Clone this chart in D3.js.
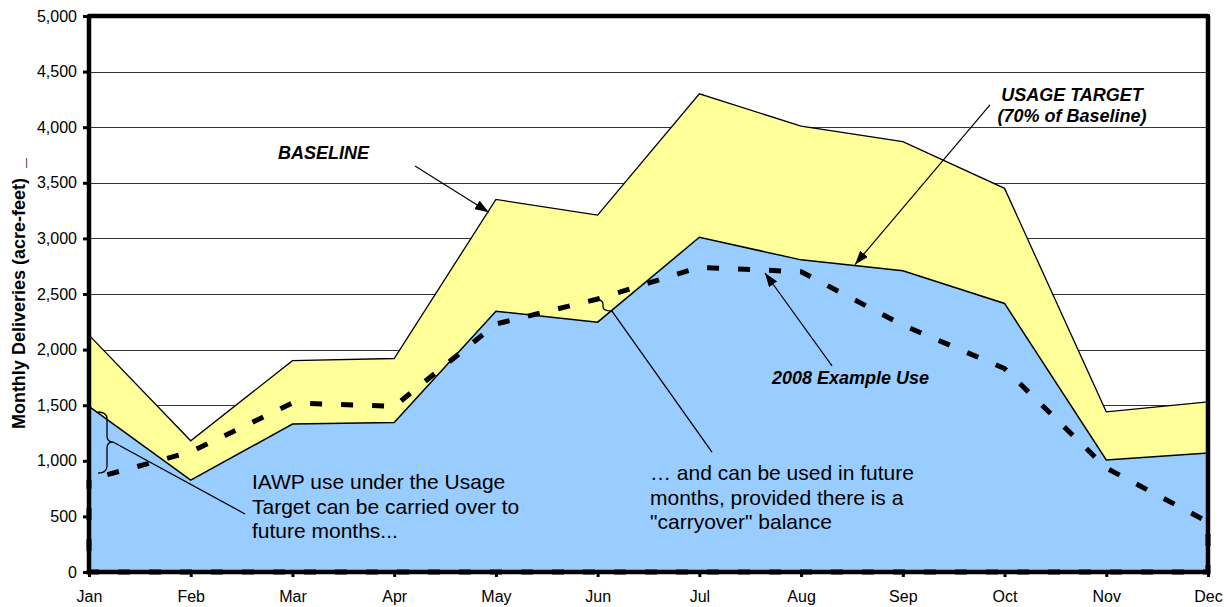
<!DOCTYPE html>
<html>
<head>
<meta charset="utf-8">
<script src="https://cdn.jsdelivr.net/npm/d3@7"></script>
<style>
  html, body { margin: 0; padding: 0; background: #fff; }
  svg { display: block; font-family: Arial, "Liberation Sans", sans-serif; }
</style>
</head>
<body>
<svg id="chart" width="1224" height="607"></svg>
<script>
// ---------------- data ----------------
const months = ["Jan","Feb","Mar","Apr","May","Jun","Jul","Aug","Sep","Oct","Nov","Dec"];
const baseline    = [2130, 1180, 1900, 1920, 3350, 3210, 4300, 4010, 3870, 3450, 1440, 1530];
const usageTarget = [1490,  826, 1330, 1344, 2345, 2247, 3010, 2807, 2709, 2415, 1008, 1071];
const exampleUse  = [ 830, 1080, 1520, 1490, 2230, 2455, 2740, 2700, 2220, 1830,  935,  450];
const yTicks = [0, 500, 1000, 1500, 2000, 2500, 3000, 3500, 4000, 4500, 5000];
const yTitle = "Monthly Deliveries (acre-feet)  _";

// ---------------- layout ----------------
const W = 1224, H = 607;
const m = { left: 89, right: 16, top: 16, bottom: 35 };
const svg = d3.select("#chart");

const x = d3.scalePoint().domain(months).range([m.left, W - m.right]);
const xi = d3.scaleLinear().domain([0, months.length - 1]).range([m.left, W - m.right]);
const y = d3.scaleLinear().domain([0, 5000]).range([H - m.bottom, m.top]);
const P = (i, v) => [xi(i), y(v)];

// gridlines
svg.append("g").selectAll("line").data(yTicks.filter(d => d > 0 && d < 5000)).join("line")
  .attr("x1", m.left).attr("x2", W - m.right)
  .attr("y1", d => Math.round(y(d)) + 0.5).attr("y2", d => Math.round(y(d)) + 0.5)
  .attr("stroke", "#333").attr("stroke-width", 1);

const rows = months.map((mo, i) => ({ mo, b: baseline[i], t: usageTarget[i], e: exampleUse[i] }));

// baseline area (yellow)
svg.append("path").datum(rows)
  .attr("d", d3.area().x(d => x(d.mo)).y0(y(0)).y1(d => y(d.b)))
  .attr("fill", "#FFFF99");
svg.append("path").datum(rows)
  .attr("d", d3.line().x(d => x(d.mo)).y(d => y(d.b)))
  .attr("fill", "none").attr("stroke", "#000").attr("stroke-width", 1.3);

// usage target area (blue)
svg.append("path").datum(rows)
  .attr("d", d3.area().x(d => x(d.mo)).y0(y(0)).y1(d => y(d.t)))
  .attr("fill", "#99CCFF");
svg.append("path").datum(rows)
  .attr("d", d3.line().x(d => x(d.mo)).y(d => y(d.t)))
  .attr("fill", "none").attr("stroke", "#000").attr("stroke-width", 1.5);

// 2008 example use: dashed closed outline
const useLine = d3.line().x(d => d[0]).y(d => d[1]);
const usePts = rows.map(d => [x(d.mo), y(d.e)])
  .concat([[x(months[months.length - 1]), y(0)], [x(months[0]), y(0)]]);
svg.append("path")
  .attr("d", useLine(usePts) + "Z")
  .attr("fill", "none").attr("stroke", "#000").attr("stroke-width", 5)
  .attr("stroke-dasharray", "12,19").attr("stroke-dashoffset", 12);

// plot border
svg.append("rect")
  .attr("x", m.left).attr("y", m.top)
  .attr("width", W - m.left - m.right).attr("height", H - m.top - m.bottom)
  .attr("fill", "none").attr("stroke", "#000").attr("stroke-width", 4.5)
  .attr("stroke-linejoin", "round");

// y axis
const yAxis = d3.axisLeft(y).tickValues(yTicks).tickFormat(d3.format(",")).tickSize(6).tickPadding(6);
const gy = svg.append("g").attr("transform", `translate(${m.left},0)`).call(yAxis);
gy.select(".domain").remove();
gy.selectAll(".tick line").attr("stroke", "#000").attr("stroke-width", 3);
gy.selectAll(".tick text").attr("font-size", 16).attr("fill", "#000")
  .attr("font-family", "Arial, 'Liberation Sans', sans-serif");

// x axis
const xAxis = d3.axisBottom(x).tickSize(5).tickPadding(14);
const gx = svg.append("g").attr("transform", `translate(0,${H - m.bottom})`).call(xAxis);
gx.select(".domain").remove();
gx.selectAll(".tick line").attr("stroke", "#000").attr("stroke-width", 3);
gx.selectAll(".tick text").attr("font-size", 16).attr("fill", "#000")
  .attr("font-family", "Arial, 'Liberation Sans', sans-serif");

// y title
svg.append("text")
  .attr("transform", `translate(25,${y(1285)}) rotate(-90)`)
  .attr("font-size", 18).attr("font-weight", "bold")
  .style("white-space", "pre")
  .text(yTitle);

// ---------------- annotations ----------------
const defs = svg.append("defs");
defs.append("marker").attr("id", "ah")
  .attr("viewBox", "0 0 14 10").attr("refX", 14).attr("refY", 5)
  .attr("markerWidth", 14).attr("markerHeight", 10)
  .attr("markerUnits", "userSpaceOnUse").attr("orient", "auto")
  .append("path").attr("d", "M0,0 L14,5 L0,10 Z").attr("fill", "#000");

function arrow(a, b) {
  svg.append("line")
    .attr("x1", a[0]).attr("y1", a[1]).attr("x2", b[0]).attr("y2", b[1])
    .attr("stroke", "#000").attr("stroke-width", 1.2)
    .attr("marker-end", "url(#ah)");
}
function plainLine(a, b) {
  svg.append("line")
    .attr("x1", a[0]).attr("y1", a[1]).attr("x2", b[0]).attr("y2", b[1])
    .attr("stroke", "#000").attr("stroke-width", 1.3);
}
function boldLabel(p, lines, anchor) {
  const t = svg.append("text").attr("x", p[0]).attr("y", p[1])
    .attr("font-size", 18).attr("font-weight", "bold").attr("font-style", "italic")
    .attr("text-anchor", anchor);
  lines.forEach((s, k) => t.append("tspan").attr("x", p[0]).attr("dy", k ? 21 : 0).text(s));
}
function plainLabel(p, lines) {
  const t = svg.append("text").attr("x", p[0]).attr("y", p[1]).attr("font-size", 21);
  lines.forEach((s, k) => t.append("tspan").attr("x", p[0]).attr("dy", k ? 24.5 : 0).text(s));
}

// BASELINE
boldLabel(P(1.858, 3714), ["BASELINE"], "start");
arrow(P(3.205, 3651), P(3.93, 3235));

// USAGE TARGET
boldLabel(P(9.663, 4236), ["USAGE TARGET", "(70% of Baseline)"], "middle");
arrow(P(8.857, 4200), P(7.53, 2765));

// 2008 Example Use
boldLabel(P(6.714, 1691), ["2008 Example Use"], "start");
arrow(P(7.304, 1853), P(6.645, 2689));

// Jan brace
{
  const xl = xi(0.088), xs = xi(0.177), xn = xi(0.236);
  const yt = y(1439), yb = y(890), ym = y(1169);
  const d = `M${xl},${yt} Q${xs},${yt} ${xs},${yt + 7} L${xs},${ym - 6} Q${xs},${ym} ${xn},${ym}` +
            ` Q${xs},${ym} ${xs},${ym + 6} L${xs},${yb - 7} Q${xs},${yb} ${xl},${yb}`;
  svg.append("path").attr("d", d).attr("fill", "none").attr("stroke", "#000").attr("stroke-width", 1.3);
  plainLine([xn, ym], P(1.534, 522));
}
plainLabel(P(1.602, 746), ["IAWP use under the Usage", "Target can be carried over to", "future months..."]);

// Jun brace
{
  const xl = xi(4.954), xs = xi(5.053), xn = xi(5.141);
  const yt = y(2455), yb = y(2347);
  const d = `M${xl},${yt} Q${xs},${yt} ${xs},${yt + 5} L${xs},${yb - 4} Q${xs},${yb} ${xn},${yb}`;
  svg.append("path").attr("d", d).attr("fill", "none").attr("stroke", "#000").attr("stroke-width", 1.3);
  plainLine([xn, yb], P(6.124, 1079));
}
plainLabel(P(5.515, 827), ["\u2026 and can be used in future", "months, provided there is a", "\"carryover\" balance"]);
</script>
</body>
</html>
